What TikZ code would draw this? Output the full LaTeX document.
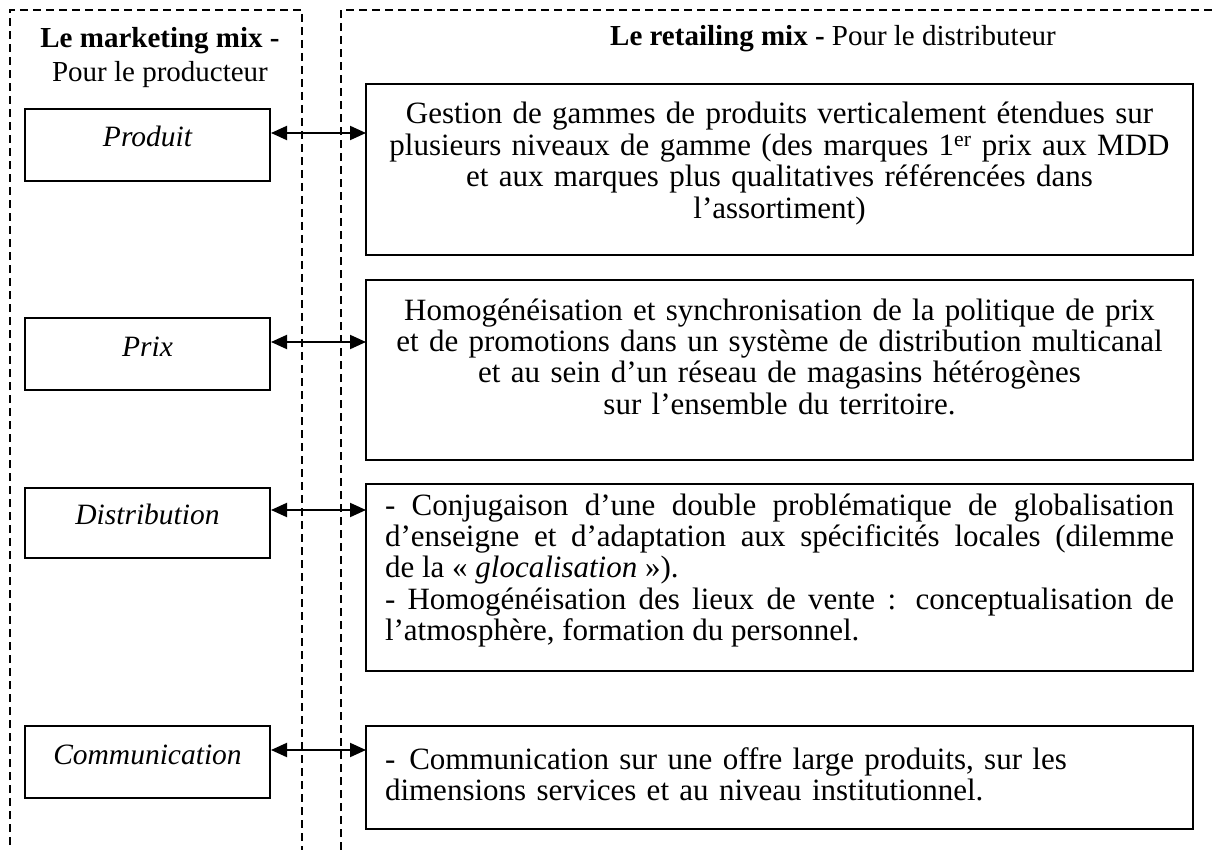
\documentclass[tikz,border=0pt]{standalone}
\usepackage{fontspec}
\setmainfont{Liberation Serif}
\usetikzlibrary{arrows.meta, positioning}

\begin{document}
\begin{tikzpicture}[
        x=1pt, y=-1pt,
        font=\fontsize{31}{31.4}\selectfont,
        >={Triangle[length=16pt, width=14pt]},
        framebox/.style={draw, dash pattern=on 8pt off 5pt, line width=1.8pt},
        mixbox/.style={rectangle, draw, line width=2pt, anchor=north west, inner sep=0pt, text width=245pt, align=center, text height=38pt, text depth=34pt, font=\fontsize{29.5}{32}\selectfont\itshape},
        retailbox/.style={rectangle, draw, line width=2pt, outer sep=0pt, anchor=north west, inner xsep=19pt, inner ysep=0pt, text width=789pt, text height=40pt},
        centrebox/.style={retailbox, inner xsep=4pt, text width=819pt, align=center},
        arrow/.style={<->, line width=2pt},
        headnode/.style={font=\fontsize{29}{34}\selectfont, align=center, anchor=base}
    ]
    \useasboundingbox (0,0) rectangle (1215,850);

    % --- Dashed frames ---
    \draw[framebox] (10,845) -- (10,10) -- (302,10) -- (302,850);
    \draw[framebox] (341,850) -- (341,10) -- (1215,10);

    % --- Headings ---
    \node[headnode] (prodhead) at (160,82) {\textbf{Le marketing mix -}\\Pour le producteur};
    \node[headnode] (disthead) at (833,46) {\textbf{Le retailing mix -} Pour le distributeur};

    % --- Marketing mix ---
    \node[mixbox] (produit) at (24,108) {Produit};
    \node[mixbox] (prix) at (24,317) {Prix};
    \node[mixbox, text height=36pt] (distrib) at (24,487) {Distribution};
    \node[mixbox] (comm) at (24,725) {Communication};

    % --- Retailing mix ---
    \node[centrebox, text depth=131pt] (gestion) at (366,84) {Gestion de gammes de produits verticalement étendues sur\\plusieurs niveaux de gamme (des marques 1\textsuperscript{er} prix aux MDD\\et aux marques plus qualitatives référencées dans\\l'assortiment)};
    \node[centrebox, text depth=140pt, below=25pt of gestion] (homog) {Homogénéisation et synchronisation de la politique de prix\\et de promotions dans un système de distribution multicanal\\et au sein d'un réseau de magasins hétérogènes\\sur l'ensemble du territoire.};
    \node[retailbox, align=justify, text height=31pt, text depth=156pt, below=24pt of homog] (conjug) {- Conjugaison d'une double problématique de globalisation\linebreak d'enseigne et d'adaptation aux spécificités locales (dilemme\linebreak de la « \textit{glocalisation} »).\\- Homogénéisation des lieux de vente : conceptualisation de\linebreak l'atmosphère, formation du personnel.};
    \node[retailbox, align=left, text height=43pt, text depth=60pt, below=55pt of conjug] (offre) {-\hspace{14pt}Communication sur une offre large produits, sur les\\dimensions services et au niveau institutionnel.};

    % --- Connections ---
    \draw[arrow] ([yshift=14pt]produit.base east) -- ([yshift=14pt]produit.base east -| gestion.west);
    \draw[arrow] ([yshift=14pt]prix.base east) -- ([yshift=14pt]prix.base east -| homog.west);
    \draw[arrow] ([yshift=14pt]distrib.base east) -- ([yshift=14pt]distrib.base east -| conjug.west);
    \draw[arrow] ([yshift=14pt]comm.base east) -- ([yshift=14pt]comm.base east -| offre.west);

\end{tikzpicture}
\end{document}
